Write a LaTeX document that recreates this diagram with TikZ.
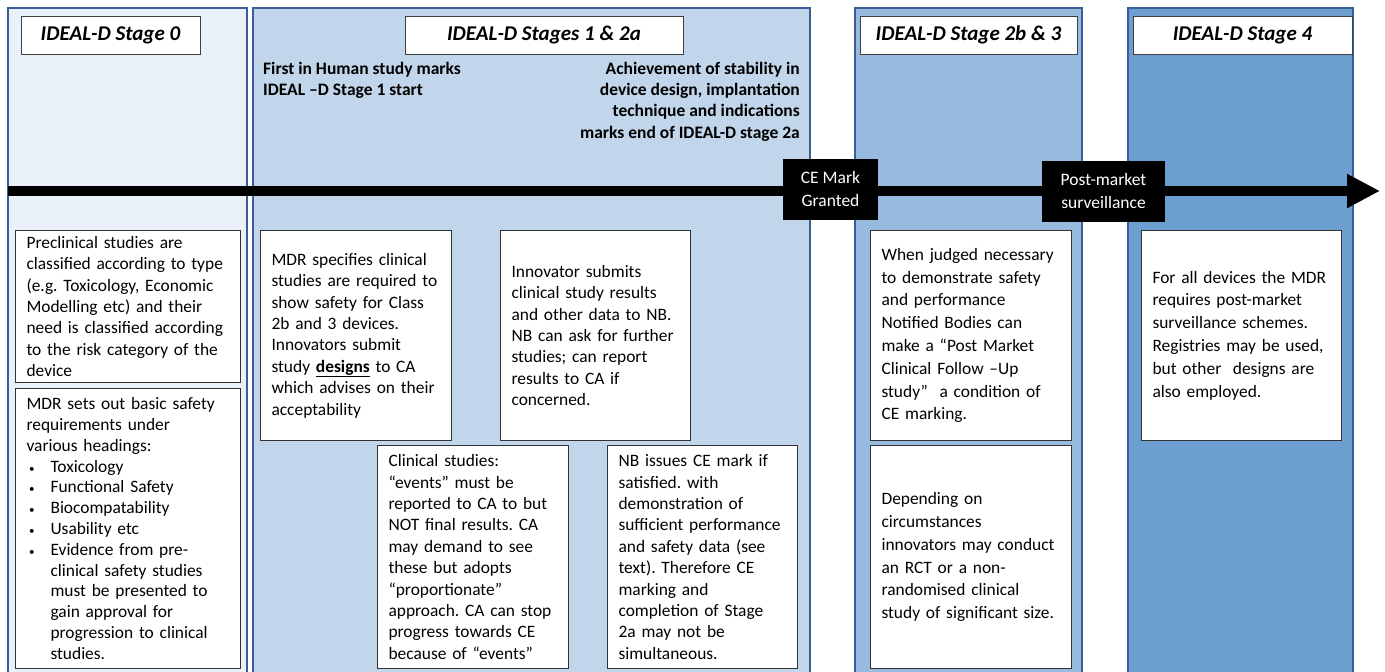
\documentclass[tikz,border=0pt]{standalone}
\usepackage{fontspec}
\setmainfont{Carlito}
\usepackage{xcolor}
\usetikzlibrary{arrows.meta,positioning}
\definecolor{stagezero}{HTML}{EAF1F9}
\definecolor{stageone}{HTML}{C2D6EB}
\definecolor{stagetwo}{HTML}{97BBDF}
\definecolor{stagefour}{HTML}{6C9FCF}
\definecolor{colline}{HTML}{3C5E98}
\frenchspacing
\newcommand{\bitem}[1]{\par\noindent\hbox to 24pt{\hspace*{2.5pt}{\fontsize{11}{11}\selectfont •}\hfil}\parbox[t]{177pt}{\raggedright #1}}

\begin{document}
\begin{tikzpicture}[x=1pt,y=-1pt,>=Latex,
  col/.style={draw=colline,line width=1.6pt},
  title/.style={draw=black!75,fill=white,line width=1pt,minimum height=38pt,
    font=\fontsize{21}{25}\selectfont\bfseries\itshape},
  box/.style={draw=black!80,fill=white,line width=1.1pt,anchor=north west,align=left,
    inner xsep=11pt,inner ysep=0pt,font=\fontsize{17.4}{21.4}\selectfont},
  boxw/.style={box,font=\fontsize{17.4}{22.8}\selectfont},
  note/.style={inner sep=0pt,font=\fontsize{17.5}{21.2}\selectfont\bfseries},
  milestone/.style={fill=black,text=white,align=center,minimum height=61pt,inner sep=2pt,
    font=\fontsize{17.5}{23}\selectfont}]
\useasboundingbox (0,0) rectangle (1385,672);
% stage columns
\draw[col,fill=stagezero] (8,8) rectangle (247,676);
\draw[col,fill=stageone] (253,8) rectangle (810,676);
\draw[col,fill=stagetwo] (855,8) rectangle (1082,676);
\draw[col,fill=stagefour] (1128,8) rectangle (1353,676);
\node[title,minimum width=179pt] (tzero) at (110.5,35) {IDEAL-D Stage 0};
\node[title,minimum width=278pt] (tone) at (544,35) {IDEAL-D Stages 1 \& 2a};
\node[title,minimum width=217pt] (ttwo) at (968.5,35) {IDEAL-D Stage 2b \& 3};
\node[title,minimum width=219pt] (tfour) at (1242.5,35) {IDEAL-D Stage 4};
\node[note,anchor=north west,align=left] (fih) at (263,62) {First in Human study marks\\IDEAL –D Stage 1 start};
\node[note,anchor=north east,align=right] (stab) at (800,62) {Achievement of stability in\\device design, implantation\\technique and indications\\marks end of IDEAL-D stage 2a};
% timeline
\coordinate (tlstart) at (8,191);
\coordinate (tlend) at (1380,191);
\draw[line width=10pt,-{Triangle[length=33pt,width=32pt]}] (tlstart) -- (tlend);
\node[milestone,minimum width=95pt] (cemark) at (830.5,189) {CE Mark\\Granted};
\node[milestone,minimum width=123pt] (pms) at (1103.5,191) {Post-market\\surveillance};
% stage 0
\node[box,text width=203pt,minimum height=152pt] (precl) at (15,230) {Preclinical studies are\\classified according to type\\(e.g. Toxicology, Economic\\Modelling etc) and their\\need is classified according\\to the risk category of the\\device};
\node[box,font=\fontsize{17.4}{20.8}\selectfont,text width=203pt,minimum height=280pt] (mdrbase) at (15,388) {MDR sets out basic safety\\requirements under\\various headings:
  \bitem{Toxicology}\bitem{Functional Safety}\bitem{Biocompatability}\bitem{Usability etc}%
  \bitem{Evidence from pre-\\clinical safety studies\\must be presented to\\gain approval for\\progression to clinical\\studies.}};
% stages 1 & 2a
\node[box,text width=169pt,minimum height=210pt] (mdrspec) at (260,230) {MDR specifies clinical\\studies are required to\\show safety for Class\\2b and 3 devices.\\Innovators submit\\study \textbf{\underline{designs}} to CA\\which advises on their\\acceptability};
\node[box,text width=168pt,minimum height=210pt] (innov) at (500,230) {Innovator submits\\clinical study results\\and other data to NB.\\NB can ask for further\\studies; can report\\results to CA if\\concerned.};
\node[box,text width=169pt,minimum height=223pt] (clin) at (377,445) {Clinical studies:\\“events” must be\\reported to CA to but\\NOT final results. CA\\may demand to see\\these but adopts\\“proportionate”\\approach. CA can stop\\progress towards CE\\because of “events”};
\node[box,text width=168pt,minimum height=223pt] (nbce) at (607,445) {NB issues CE mark if\\satisfied. with\\demonstration of\\sufficient performance\\and safety data (see\\text). Therefore CE\\marking and\\completion of Stage\\2a may not be\\simultaneous.};
% stages 2b & 3
\node[boxw,text width=179pt,minimum height=210pt] (pmcf) at (870,230) {When judged necessary\\to demonstrate safety\\and performance\\Notified Bodies can\\make a “Post Market\\Clinical Follow –Up\\study”\ \ a condition of\\CE marking.};
\node[boxw,text width=179pt,minimum height=223pt] (rct) at (870,445) {Depending on\\circumstances\\innovators may conduct\\an RCT or a non-\\randomised clinical\\study of significant size.};
% stage 4
\node[boxw,text width=178pt,minimum height=210pt] (survey) at (1141,230) {For all devices the MDR\\requires post-market\\surveillance schemes.\\Registries may be used,\\but other\ \ designs are\\also employed.};
\end{tikzpicture}
\end{document}
